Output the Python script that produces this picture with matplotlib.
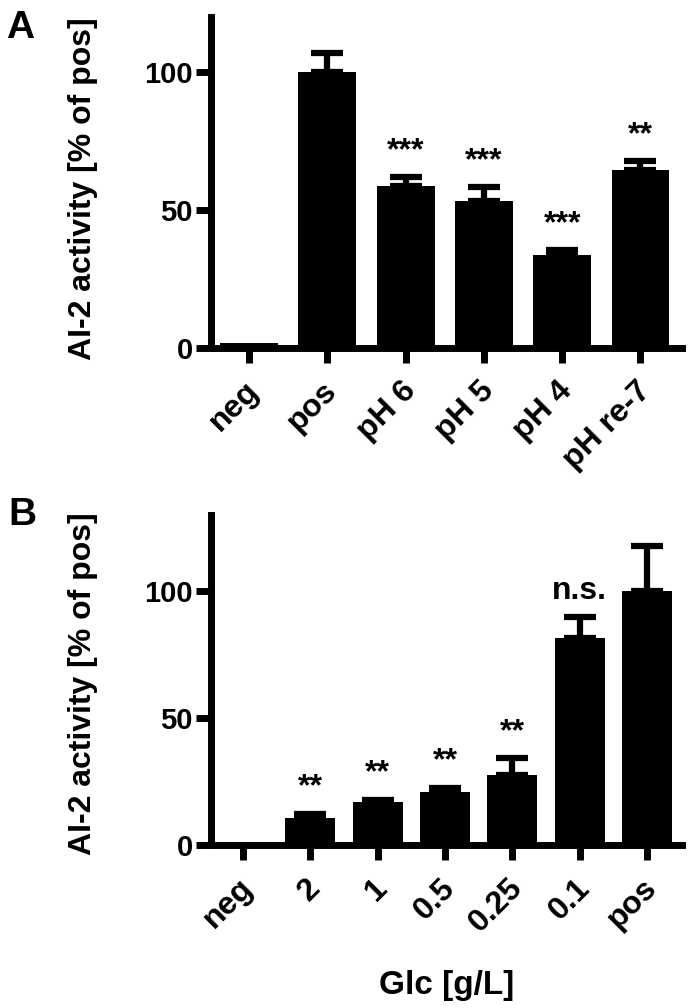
#Recreate AI-2 activity bar chart - panels A and B

import numpy as np
import matplotlib.pyplot as plt
import matplotlib.transforms as mtransforms

plt.rcParams['font.family'] = ['Liberation Sans', 'DejaVu Sans']
plt.rcParams['font.weight'] = 'bold'

#Panel A - pH
labels_a = ['neg', 'pos', 'pH 6', 'pH 5', 'pH 4', 'pH re-7']
values_a = [1.8, 100, 58.8, 53.3, 33.6, 64.7]
errors_a = [0, 7.0, 3.2, 5.1, 1.8, 3.0]
signif_a = ['', '', '***', '***', '***', '**']

#Panel B - glucose
labels_b = ['neg', '2', '1', '0.5', '0.25', '0.1', 'pos']
values_b = [0, 10.5, 17.0, 20.9, 27.5, 81.7, 100]
errors_b = [0, 1.9, 0.9, 1.7, 6.7, 8.2, 17.6]
signif_b = ['', '**', '**', '**', '**', 'n.s.', '']

fig = plt.figure(figsize=(6.9, 10.08), dpi=100)
ax_a = fig.add_axes([0.3058, 0.6548, 0.6826, 0.3283])
ax_b = fig.add_axes([0.3058, 0.1617, 0.6826, 0.3274])


def draw_panel(ax, labels, values, errors, signif, ymax, xlim):
    x = np.arange(len(labels))
    vals = np.array(values)
    errs = np.array(errors)
    ax.bar(x, vals, width=0.74, color='black', zorder=2)
    #error bars only where there is an error
    m = errs > 0
    ax.errorbar(x[m], vals[m], yerr=[np.zeros(m.sum()), errs[m]], fmt='none',
                ecolor='black', elinewidth=4.5, capsize=11.5, capthick=4.5,
                zorder=1)
    #significance marks above the error bars
    for i in range(len(x)):
        if signif[i] == '':
            continue
        ax.annotate(signif[i], (x[i], vals[i] + errs[i]),
                    xytext=(0, 8), textcoords='offset points',
                    ha='center', va='bottom', fontsize=23,
                    fontweight='bold')
    ax.set_xlim(xlim)
    ax.set_ylim(0, ymax)
    ax.set_yticks([0, 50, 100])
    ax.set_xticks(x)
    ax.set_xticklabels(labels, rotation=45, ha='right', va='top',
                       rotation_mode='anchor', fontsize=23)
    for side in ['top', 'right']:
        ax.spines[side].set_visible(False)
    for side in ['left', 'bottom']:
        ax.spines[side].set_linewidth(5)
    ax.tick_params(axis='both', width=5, length=11, pad=2)
    ax.tick_params(axis='y', labelsize=21)
    ax.tick_params(axis='x', pad=4)
    #nudge the rotated labels a bit left and down
    shift = mtransforms.ScaledTranslation(-0.05, -0.07, fig.dpi_scale_trans)
    for lab in ax.get_xticklabels():
        lab.set_transform(lab.get_transform() + shift)
    for lab in ax.get_xticklabels() + ax.get_yticklabels():
        lab.set_fontweight('bold')
    ax.set_ylabel('AI-2 activity [% of pos]', fontsize=23, fontweight='bold')


draw_panel(ax_a, labels_a, values_a, errors_a, signif_a, 120, (-0.485, 5.53))
draw_panel(ax_b, labels_b, values_b, errors_b, signif_b, 130, (-0.475, 6.52))

ax_a.yaxis.set_label_coords(-0.24, 0.48)
ax_b.yaxis.set_label_coords(-0.24, 0.49)

ax_b.set_xlabel('Glc [g/L]', fontsize=24, fontweight='bold')
ax_b.xaxis.set_label_coords(0.5, -0.38)

#panel letters
fig.text(6 / 690, 1 - 10 / 1008, 'A', fontsize=28, fontweight='bold', va='top')
fig.text(8 / 690, 1 - 497 / 1008, 'B', fontsize=28, fontweight='bold', va='top')

plt.savefig('out.png', dpi=100)
